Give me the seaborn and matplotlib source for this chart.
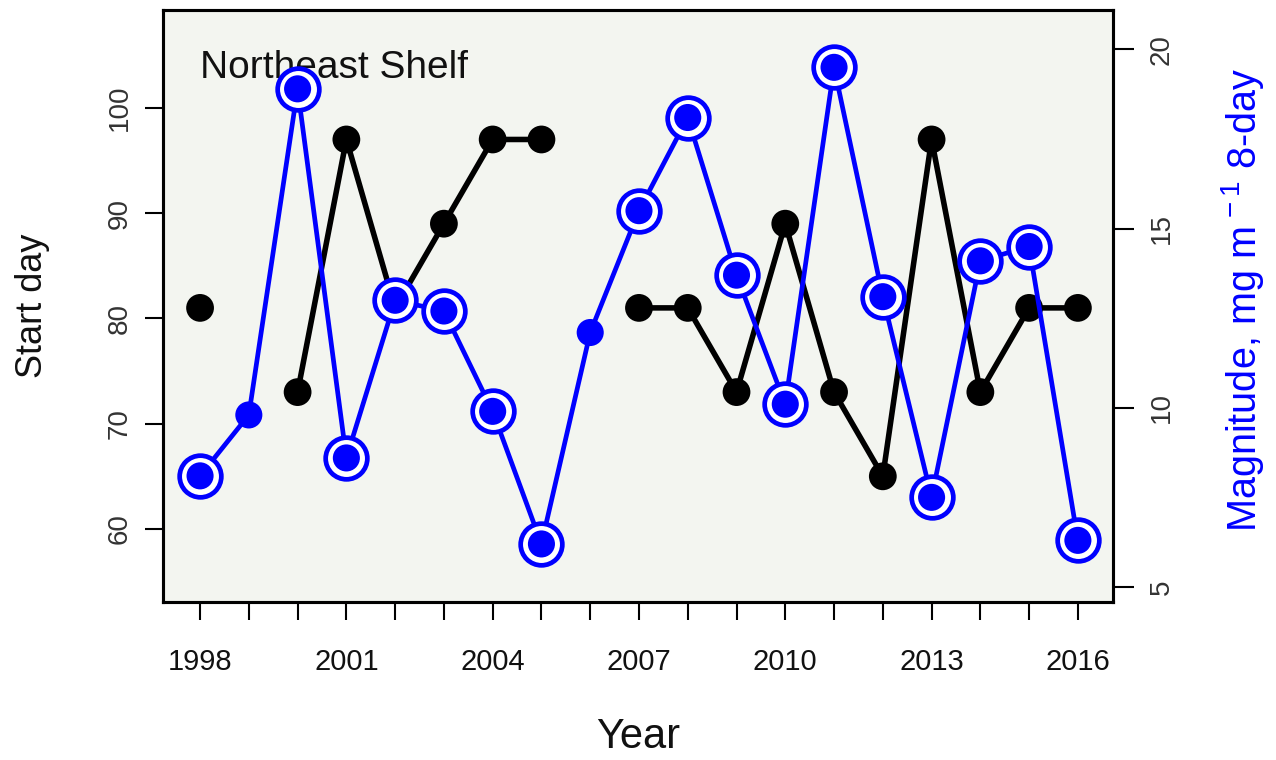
import numpy as np
import pandas as pd
import matplotlib
matplotlib.use("Agg")
import matplotlib.pyplot as plt
import seaborn as sns

# Annual bloom metrics for the Northeast Shelf
years = list(range(1998, 2017))
start_day = [81, np.nan, 73, 97, 81, 89, 97, 97, np.nan,
             81, 81, 73, 89, 73, 65, 97, 73, 81, 81]
magnitude = [8.1, 9.8, 18.9, 8.6, 13.0, 12.7, 9.9, 6.2, 12.1,
             15.5, 18.1, 13.7, 10.1, 19.5, 13.1, 7.5, 14.1, 14.5, 6.3]
year_labels = [1998, 2001, 2004, 2007, 2010, 2013, 2016]
start_ticks = [60, 70, 80, 90, 100]
mag_ticks = [5, 10, 15, 20]
region = "Northeast Shelf"

sns.set_theme(style="white")
plt.rcParams["font.family"] = ["Liberation Sans", "DejaVu Sans"]
plt.rcParams["mathtext.fontset"] = "custom"
plt.rcParams["mathtext.rm"] = "Liberation Sans"
plt.rcParams["mathtext.it"] = "Liberation Sans:italic"
plt.rcParams["mathtext.default"] = "regular"

df = pd.DataFrame({"year": years, "start": start_day, "mag": magnitude})
# break the start-day line wherever a year is missing
df["segment"] = df["start"].isna().cumsum()
has_start = df["start"].notna()
df_start = df[has_start]

W, H = 1276, 760
fig = plt.figure(figsize=(W / 100, H / 100), dpi=100)
fig.patch.set_facecolor("white")
ax = fig.add_axes([163 / W, 1 - 602 / H, 950 / W, 592 / H])
ax.set_facecolor("#F3F5F0")

# start day (left axis)
sns.lineplot(data=df_start, x="year", y="start", units="segment",
             estimator=None, color="black", lw=4.0, ax=ax, zorder=2)
sns.scatterplot(data=df_start, x="year", y="start", color="black",
                s=400, edgecolor="none", ax=ax, zorder=3)

ax.text((200 - 163) / 950, (602 - 78) / 592, region,
        transform=ax.transAxes, ha="left", va="baseline", fontsize=28,
        color="#111111", zorder=1)

# magnitude (right axis)
ax2 = ax.twinx()
ax2.patch.set_visible(False)
sns.lineplot(data=df, x="year", y="mag", color="blue", lw=3.4,
             ax=ax2, zorder=2)
sns.scatterplot(data=df_start, x="year", y="mag", color="white",
                edgecolor="blue", linewidth=3.4, s=30 ** 2, ax=ax2, zorder=3)
sns.scatterplot(data=df, x="year", y="mag", color="blue",
                edgecolor="none", s=380, ax=ax2, zorder=4)

ax.set_xlim(1997.24, 2016.72)
ax.set_ylim(53.06, 109.3)
ax2.set_ylim(4.58, 21.1)

ax.set_xticks(years)
ax.set_xticklabels([str(y) if y in year_labels else "" for y in years])
ax.set_yticks(start_ticks)
ax.set_yticklabels([str(v) for v in start_ticks], rotation=90, va="center")
ax2.set_yticks(mag_ticks)
ax2.set_yticklabels([str(v) for v in mag_ticks], rotation=90, va="center")

ax.tick_params(axis="x", bottom=True, length=13, width=1.5, pad=20,
               labelsize=21, color="black", labelcolor="#111111")
ax.tick_params(axis="y", left=True, length=13, width=1.5, pad=9,
               labelsize=20, color="black", labelcolor="#333333")
ax2.tick_params(axis="y", right=True, length=15, width=1.5, pad=11,
                labelsize=20, color="black", labelcolor="#333333")

for a in (ax, ax2):
    for sp in a.spines.values():
        sp.set_visible(True)
        sp.set_color("black")
        sp.set_linewidth(2.2)

ax.set_xlabel("Year", fontsize=30, va="center", color="#111111")
ax.xaxis.set_label_coords(0.5, (602 - 737) / 592)
ax.set_ylabel("Start day", fontsize=26, va="center", ha="center",
              rotation=90, rotation_mode="default", color="#111111")
ax.yaxis.set_label_coords((33 - 163) / 950, 0.5)
ax2.set_ylabel(r"Magnitude, mg m$^{\,-1}$ 8-day", fontsize=28.5, va="center",
               ha="center", rotation=90, rotation_mode="default", color="blue")
ax2.yaxis.set_label_coords((1243 - 163) / 950, (602 - 300) / 592)

fig.savefig("out.png", dpi=100)
